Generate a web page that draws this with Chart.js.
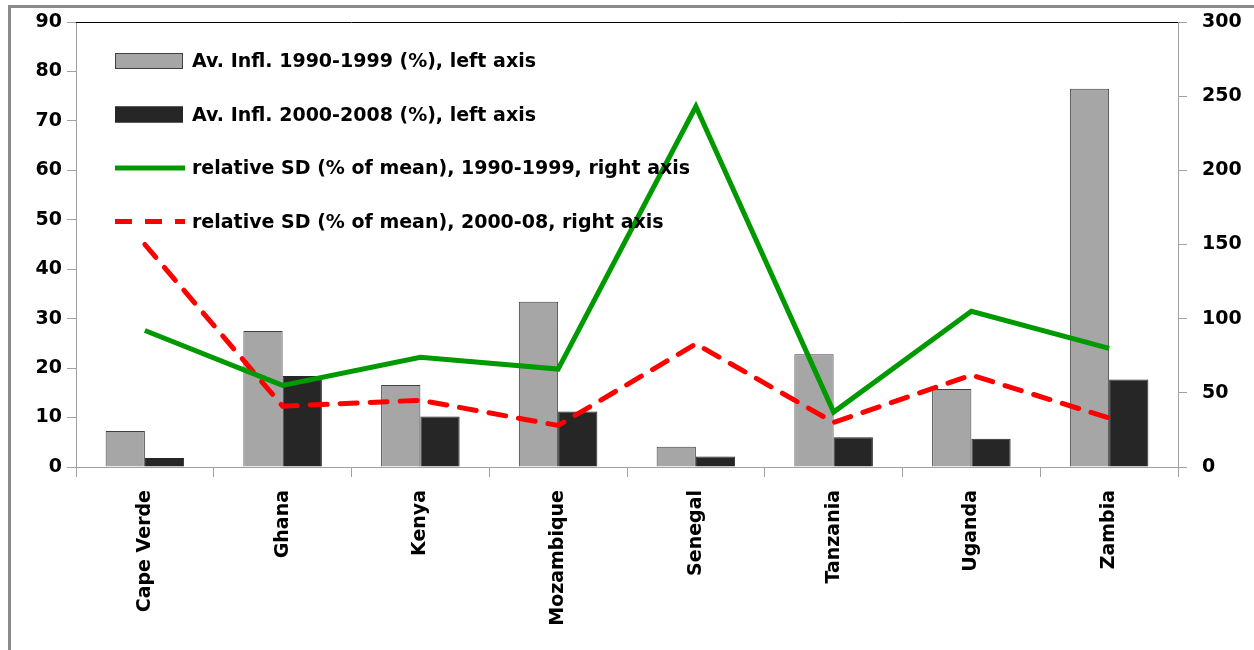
<!DOCTYPE html>
<html>
<head>
<meta charset="utf-8">
<script src="https://cdn.jsdelivr.net/npm/chart.js@4.4.0/dist/chart.umd.min.js"></script>
<style>
body { margin: 0; background: #fff; }
#wrap { position: absolute; left: 8px; top: 5px; width: 1246px; height: 642px;
        border-left: 3px solid #8a8a8a; border-top: 3px solid #8a8a8a; }
</style>
</head>
<body>
<div id="wrap"><canvas id="myChart"></canvas></div>
<script>
const countries = ['Cape Verde', 'Ghana', 'Kenya', 'Mozambique', 'Senegal', 'Tanzania', 'Uganda', 'Zambia'];
const infl_90s = [7.3, 27.5, 16.6, 33.4, 4.1, 22.8, 15.8, 76.5];
const infl_00s = [1.8, 18.4, 10.2, 11.2, 2.1, 6.0, 5.7, 17.7];
const sd_90s = [92, 55, 74, 66, 243, 37, 105, 80];
const sd_00s = [150, 41, 45, 28, 83, 30, 62, 33];
const left_ticks = [0, 10, 20, 30, 40, 50, 60, 70, 80, 90];
const right_ticks = [0, 50, 100, 150, 200, 250, 300];

const font = { family: 'DejaVu Sans', size: 19, weight: 'bold' };
const ctx = document.getElementById('myChart').getContext('2d');

// legend drawn inside the plot area, like the original
const innerLegend = {
    id: 'innerLegend',
    afterDraw(chart) {
        const c = chart.ctx;
        const a = chart.chartArea;
        c.save();
        c.strokeStyle = '#000';
        c.lineWidth = 1;
        c.beginPath();
        c.moveTo(a.left, a.top + 0.5);
        c.lineTo(a.right, a.top + 0.5);
        c.stroke();
        chart.data.datasets.forEach(function(ds, i){
            const x = a.left + 39;
            const y = a.top + 39 + i * 53.5;
            if (ds.type === 'bar') {
                c.fillStyle = ds.backgroundColor;
                c.fillRect(x, y - 8, 68, 16);
                c.strokeStyle = ds.borderColor;
                c.lineWidth = 1;
                c.strokeRect(x + 0.5, y - 7.5, 67, 15);
            } else {
                c.strokeStyle = ds.borderColor;
                c.lineWidth = ds.borderWidth;
                c.setLineDash(ds.borderDash || []);
                c.beginPath();
                c.moveTo(x, y);
                c.lineTo(x + 70, y);
                c.stroke();
                c.setLineDash([]);
            }
            c.fillStyle = '#000';
            c.font = font.weight + ' ' + font.size + 'px "' + font.family + '"';
            c.textBaseline = 'middle';
            c.fillText(ds.label, x + 77, y + 1.5);
        });
        c.restore();
    }
};

function fit_y(w){
    return function(s){
        s.width = w;
        s.paddingTop = 0;
        s.paddingBottom = 0;
    };
}

function draw_chart(){
    MyChart = new Chart(ctx, {
        data: {
            labels: countries,
            datasets: [
            {
                type: 'bar',
                label: 'Av. Infl. 1990-1999 (%), left axis',
                data: infl_90s,
                backgroundColor: '#a6a6a6',
                borderColor: '#404040',
                borderWidth: 1,
                yAxisID: 'y',
                order: 2,
                barPercentage: 1.0,
                categoryPercentage: 0.57
            },
            {
                type: 'bar',
                label: 'Av. Infl. 2000-2008 (%), left axis',
                data: infl_00s,
                backgroundColor: '#262626',
                borderColor: '#262626',
                borderWidth: 1,
                yAxisID: 'y',
                order: 2,
                barPercentage: 1.0,
                categoryPercentage: 0.57
            },
            {
                type: 'line',
                label: 'relative SD (% of mean), 1990-1999, right axis',
                data: sd_90s,
                borderColor: '#009900',
                borderWidth: 5,
                pointRadius: 0,
                tension: 0,
                yAxisID: 'y1',
                order: 1
            },
            {
                type: 'line',
                label: 'relative SD (% of mean), 2000-08, right axis',
                data: sd_00s,
                borderColor: '#ff0000',
                borderWidth: 5,
                borderDash: [17, 13],
                borderCapStyle: 'round',
                pointRadius: 0,
                tension: 0,
                yAxisID: 'y1',
                order: 1
            }
            ]
        },
        options: {
            responsive: true,
            maintainAspectRatio: false,
            animation: false,
            layout: { padding: { top: 14, left: 0, right: 0, bottom: 0 } },
            plugins: { legend: { display: false }, tooltip: { enabled: false } },
            scales: {
                x: {
                    offset: true,
                    grid: { offset: true, drawOnChartArea: false, tickLength: 10, color: '#a0a0a0' },
                    border: { color: '#a0a0a0' },
                    ticks: { color: '#000', font: font, maxRotation: 90, minRotation: 90, padding: 13 },
                    afterFit: function(s){ s.height = 183; s.paddingLeft = 0; s.paddingRight = 0; }
                },
                y: {
                    position: 'left',
                    min: 0, max: 90,
                    afterBuildTicks: function(s){ s.ticks = left_ticks.map(v => ({ value: v })); },
                    grid: { drawOnChartArea: false, tickLength: 9, color: '#a0a0a0' },
                    border: { color: '#a0a0a0' },
                    ticks: { color: '#000', font: font, padding: 5 },
                    afterFit: fit_y(65)
                },
                y1: {
                    position: 'right',
                    min: 0, max: 300,
                    afterBuildTicks: function(s){ s.ticks = right_ticks.map(v => ({ value: v })); },
                    grid: { drawOnChartArea: false, tickLength: 9, color: '#a0a0a0' },
                    border: { color: '#a0a0a0' },
                    ticks: { color: '#000', font: font, padding: 15 },
                    afterFit: fit_y(79)
                }
            }
        },
        plugins: [innerLegend]
    });
}

draw_chart();
</script>
</body>
</html>
